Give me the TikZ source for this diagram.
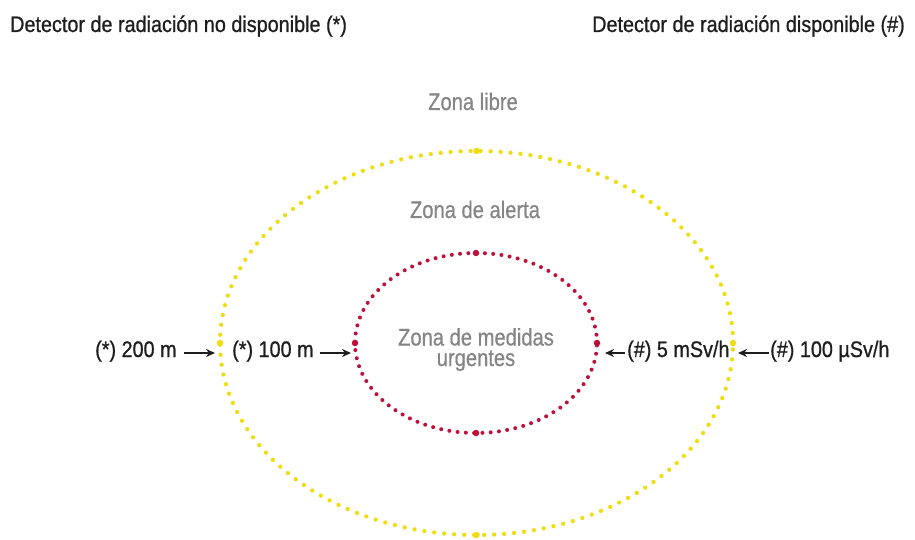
\documentclass[tikz,border=0pt]{standalone}
\usepackage{fontspec}
\setmainfont{Liberation Sans}[FakeStretch=0.88, FakeBold=0.8]
\newfontfamily\zonefam{Liberation Sans}[FakeStretch=0.84, FakeBold=0.6]
\usetikzlibrary{arrows.meta}
\definecolor{ink}{HTML}{1E1E1E}
\definecolor{zonegray}{HTML}{858585}
\definecolor{dotyellow}{HTML}{EEDD10}
\definecolor{dotred}{HTML}{BE1038}
\begin{document}
\begin{tikzpicture}[x=1pt,y=-1pt,
  lbl/.style={font=\fontsize{22.5}{20}\selectfont, text=ink, inner sep=0pt},
  zone/.style={font=\zonefam\fontsize{24}{20.5}\selectfont, text=zonegray, inner sep=0pt},
  ringY/.style={draw=dotyellow, line width=4.3pt, line cap=round, dash pattern=on 0pt off 10pt},
  ringR/.style={draw=dotred, line width=4pt, line cap=round, dash pattern=on 0pt off 8.3pt},
  ptr/.style={-{Stealth[length=9pt,width=8pt]}, line width=1.5pt, draw=ink},
  bigdot/.style={circle, inner sep=0pt, minimum size=6.5pt, fill=#1}]
\useasboundingbox (0,0) rectangle (915,540);

% titles
\node[lbl, anchor=base west] (tno) at (10,32) {Detector de radiación no disponible (*)};
\node[lbl, anchor=base east] (tsi) at (905,32) {Detector de radiación disponible (\#)};

% rings
\draw[ringY] (476.5,343) ellipse [x radius=256.5pt, y radius=192pt];
\draw[ringR] (476,343) ellipse [x radius=121pt, y radius=90pt];

% cardinal dots
\node[bigdot=dotyellow] (oT) at (476.5,151) {};
\node[bigdot=dotyellow] (oB) at (476.5,535) {};
\node[bigdot=dotyellow] (oW) at (220,343) {};
\node[bigdot=dotyellow] (oE) at (733,343) {};
\node[bigdot=dotred] (iT) at (476,253) {};
\node[bigdot=dotred] (iB) at (476,433) {};
\node[bigdot=dotred] (iW) at (355,343) {};
\node[bigdot=dotred] (iE) at (597,343) {};

% arrow targets
\coordinate (oL) at (219,353);
\coordinate (oR) at (734,353);
\coordinate (iL) at (355,353);
\coordinate (iR) at (598,353);

% zone names
\node[zone, anchor=base] (zlibre) at (473,110) {Zona libre};
\node[zone, anchor=base] (zalerta) at (475,218) {Zona de alerta};
\node[zone, anchor=base, align=center] (zmed) at (476,366) {Zona de medidas\\urgentes};

% labels
\node[lbl, anchor=base west] (l200) at (95,357) {(*) 200 m};
\node[lbl, anchor=base west] (l100) at (232,357) {(*) 100 m};
\node[lbl, anchor=base west] (l5) at (627,357) {(\#) 5 mSv/h};
\node[lbl, anchor=base west] (lmu) at (770,357) {(\#) 100 µSv/h};

% arrows
\draw[ptr, shorten <=7pt, shorten >=4pt] (l200.east |- oL) -- (oL);
\draw[ptr, shorten <=6pt, shorten >=4pt] (l100.east |- iL) -- (iL);
\draw[ptr, shorten <=2pt, shorten >=7pt] (l5.west |- iR) -- (iR);
\draw[ptr, shorten <=1pt, shorten >=4pt] (lmu.west |- oR) -- (oR);
\end{tikzpicture}
\end{document}
